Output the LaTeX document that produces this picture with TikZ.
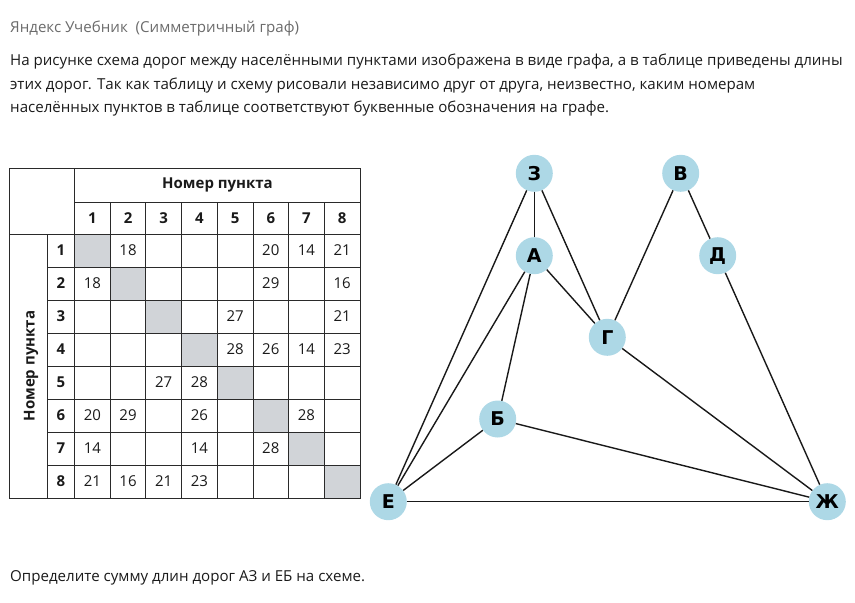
\documentclass[tikz,border=0pt]{standalone}
\usepackage{fontspec}
\setmainfont{Open Sans}
\newfontfamily\nodefont{DejaVu Sans}
\definecolor{nodeblue}{HTML}{ADD8E6}
\definecolor{tabline}{HTML}{2A2A2A}
\definecolor{cellgray}{HTML}{D1D4D8}
\definecolor{titlegray}{HTML}{6B6B6B}
\definecolor{textblack}{HTML}{1A1A1A}
\begin{document}
\begin{tikzpicture}[x=1pt,y=-1pt,
  gn/.style={circle, fill=nodeblue, minimum size=37pt, inner sep=0pt, font=\nodefont\bfseries\fontsize{19}{19}\selectfont},
  edge/.style={line width=1.4pt, black!90},
  tl/.style={line width=0.9pt, draw=tabline},
  txt/.style={anchor=base west, inner sep=0pt, text=textblack, font=\fontsize{15.1}{15.1}\selectfont},
  num/.style={inner sep=0pt, text=textblack, font=\fontsize{15}{15}\selectfont},
  bnum/.style={inner sep=0pt, text=textblack, font=\bfseries\fontsize{15}{15}\selectfont}]
\useasboundingbox (0,0) rectangle (855,603);
% texts
\node[txt, text=titlegray] (title) at (10,32) {Яндекс Учебник~~(Симметричный граф)};
\node[txt] (l1) at (10,65) {На рисунке схема дорог между населёнными пунктами изображена в виде графа, а в таблице приведены длины};
\node[txt] (l2) at (10,89) {этих дорог. Так как таблицу и схему рисовали независимо друг от друга, неизвестно, каким номерам};
\node[txt] (l3) at (10,112) {населённых пунктов в таблице соответствуют буквенные обозначения на графе.};
\node[txt] (q) at (10,581) {Определите сумму длин дорог АЗ и ЕБ на схеме.};
% table shading
\foreach \i in {1,...,8}
  \fill[cellgray] ({74.5+35.69*(\i-1)},{234+33*(\i-1)}) rectangle +(35.69,33);
% table lines
\draw[tl] (9,168) rectangle (360,498);
\draw[tl] (74.5,202) -- (360,202);
\draw[tl] (9,234) -- (360,234);
\foreach \k in {1,...,7}
  \draw[tl] (47,{234+33*\k}) -- (360,{234+33*\k});
\draw[tl] (47,234) -- (47,498);
\draw[tl] (74.5,168) -- (74.5,498);
\foreach \c in {1,...,7}
  \draw[tl] ({74.5+35.69*\c},202) -- ({74.5+35.69*\c},498);
% headers
\node[bnum] (hdr) at (217.5,185) {Номер пункта};
\node[bnum, rotate=90] (vhdr) at (31,366) {Номер пункта};
\foreach \c in {1,...,8}
  \node[bnum] (col\c) at ({74.5+35.69*(\c-0.5)},218) {\c};
\foreach \r in {1,...,8}
  \node[bnum] (row\r) at (61,{234+33*(\r-0.5)}) {\r};
% data
\foreach \r/\c/\v in {1/2/18,1/6/20,1/7/14,1/8/21,
  2/1/18,2/6/29,2/8/16,
  3/5/27,3/8/21,
  4/5/28,4/6/26,4/7/14,4/8/23,
  5/3/27,5/4/28,
  6/1/20,6/2/29,6/4/26,6/7/28,
  7/1/14,7/4/14,7/6/28,
  8/1/21,8/2/16,8/3/21,8/4/23}
  \node[num] (v\r-\c) at ({74.5+35.69*(\c-0.5)},{234+33*(\r-0.5)}) {\v};
% graph nodes
\node[gn] (z) at (534.3,173.3) {З};
\node[gn] (v) at (680.7,173.3) {В};
\node[gn] (a) at (534.3,255.7) {А};
\node[gn] (d) at (717.7,255.7) {Д};
\node[gn] (g) at (607.3,337.3) {Г};
\node[gn] (b) at (497.7,419) {Б};
\node[gn] (e) at (388.3,501.7) {Е};
\node[gn] (zh) at (827.3,501.7) {Ж};
% edges
\foreach \p/\q in {z/a,z/g,z/e,v/g,v/d,a/g,a/e,a/b,d/zh,g/zh,b/e,b/zh,e/zh}
  \draw[edge] (\p) -- (\q);
\end{tikzpicture}
\end{document}
